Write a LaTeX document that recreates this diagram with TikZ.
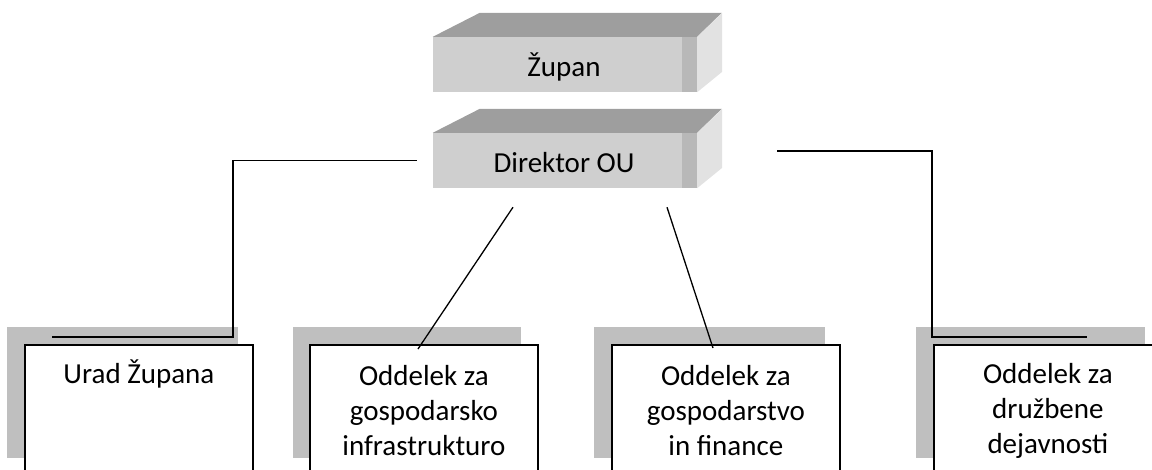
\documentclass[tikz,border=0pt]{standalone}
\usepackage{fontspec}
\setmainfont{Carlito}
\definecolor{frontc}{HTML}{CFCFCF}
\definecolor{topc}{HTML}{9E9E9E}
\definecolor{sidec}{HTML}{E2E2E2}
\definecolor{stripc}{HTML}{B8B8B8}
\definecolor{shadowc}{HTML}{BFBFBF}
\tikzset{
  face/.style={fill=frontc, draw=none, minimum width=264, minimum height=55, inner sep=0},
  wbox/.style={fill=white, draw=black, line width=1.8pt, minimum width=228, minimum height=140, inner sep=0, anchor=north west},
  lbl/.style={font=\fontsize{29}{35}\selectfont, inner sep=0, align=center},
  blbl/.style={font=\fontsize{29}{35}\selectfont, inner sep=0, align=center, anchor=base},
  conn/.style={draw=black, line width=1.3pt},
}
\begin{document}
\begin{tikzpicture}[x=1pt,y=-1pt]
\useasboundingbox (0,0) rectangle (1152,469);
\clip (0,0) rectangle (1152,469);
% Zupan box
\node[face] (zupan) at (565,64.5) {};
\fill[topc] (zupan.north west) -- ++(47,-24) -- ++(242,0) -- (zupan.north east) -- cycle;
\fill[sidec] (zupan.north east) -- ++(25,-24) -- ++(0,59) -- (zupan.south east) -- cycle;
\fill[stripc] ([xshift=-15pt]zupan.north east) rectangle (zupan.south east);
\node[lbl, anchor=base] (tzupan) at (564,76) {Župan};
% Direktor box
\node[face] (dir) at (565,160.5) {};
\fill[topc] (dir.north west) -- ++(47,-24) -- ++(242,0) -- (dir.north east) -- cycle;
\fill[sidec] (dir.north east) -- ++(25,-24) -- ++(0,59) -- (dir.south east) -- cycle;
\fill[stripc] ([xshift=-15pt]dir.north east) rectangle (dir.south east);
\node[lbl, anchor=base] (tdir) at (564,172) {Direktor OU};
% shadows
\fill[shadowc] (7,327) rectangle (238,458);
\fill[shadowc] (293,327) rectangle (521,458);
\fill[shadowc] (594,327) rectangle (825,458);
\fill[shadowc] (916,327) rectangle (1145,458);
% bottom boxes
\node[wbox] (b1) at (24,344) {};
\node[wbox] (b2) at (309,344) {};
\node[wbox] (b3) at (611,344) {};
\node[wbox] (b4) at (933,344) {};
\node[blbl] (t1) at ([yshift=-39pt]b1.north) {Urad Župana};
\node[blbl] (t2) at ([yshift=-111pt]b2.north) {Oddelek za\\gospodarsko\\infrastrukturo};
\node[blbl] (t3) at ([yshift=-111pt]b3.north) {Oddelek za\\gospodarstvo\\in finance};
\node[blbl] (t4) at ([yshift=-109pt]b4.north) {Oddelek za\\družbene\\dejavnosti};
% connector points
\coordinate (dl) at ([xshift=-16pt]dir.west);
\coordinate (dr) at ([xshift=80pt,yshift=9.5pt]dir.east);
\coordinate (dsl) at ([xshift=-52pt,yshift=-19pt]dir.south);
\coordinate (dsr) at ([xshift=102pt,yshift=-19pt]dir.south);
\coordinate (e1) at ([xshift=28pt,yshift=7pt]b1.north west);
\coordinate (e2) at ([xshift=109pt,yshift=-5pt]b2.north west);
\coordinate (e3) at ([xshift=102pt,yshift=-4pt]b3.north west);
\coordinate (e4) at ([xshift=154pt,yshift=7pt]b4.north west);
\coordinate (k1) at (233,337);
\coordinate (k4) at (932,337);
% connectors
\draw[conn] (dl) -| (k1) -- (e1);
\draw[conn] (dr) -| (k4) -- (e4);
\draw[conn] (dsl) -- (e2);
\draw[conn] (dsr) -- (e3);
\end{tikzpicture}
\end{document}
